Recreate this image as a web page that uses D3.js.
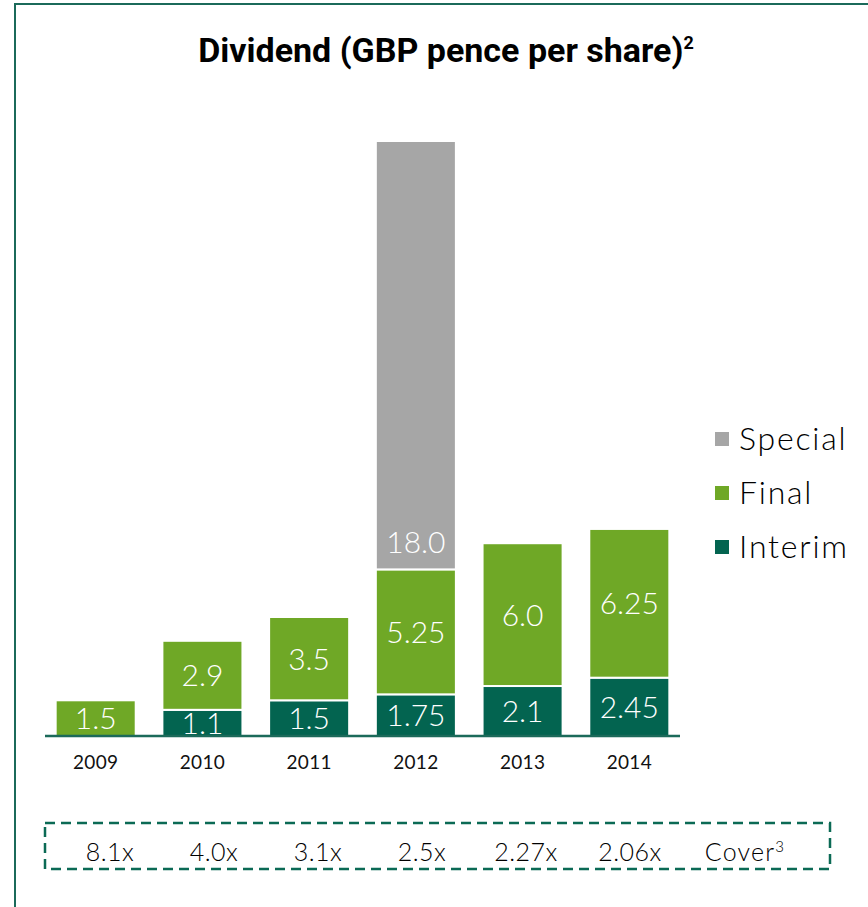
<!DOCTYPE html>
<html>
<head>
<meta charset="utf-8">
<script src="https://cdn.jsdelivr.net/npm/d3@7"></script>
<style>
  html, body { margin: 0; padding: 0; background: #ffffff; }
  svg { display: block; }
</style>
</head>
<body>
<svg id="chart" width="868" height="907"></svg>
<script>
// Dividend per share, GBP pence
const years = ["2009", "2010", "2011", "2012", "2013", "2014"];
const interim = [0, 1.1, 1.5, 1.75, 2.1, 2.45];
const finalDiv = [1.5, 2.9, 3.5, 5.25, 6.0, 6.25];
const special = [0, 0, 0, 18.0, 0, 0];
const interimLabels = ["", "1.1", "1.5", "1.75", "2.1", "2.45"];
const finalLabels = ["1.5", "2.9", "3.5", "5.25", "6.0", "6.25"];
const specialLabels = ["", "", "", "18.0", "", ""];
const cover = ["8.1x", "4.0x", "3.1x", "2.5x", "2.27x", "2.06x"];
const seriesNames = ["Special", "Final", "Interim"];

const colors = { Interim: "#036450", Final: "#6fa826", Special: "#a6a6a6" };
const frameColor = "#1b6a5a";
const labelFont = "Lato, 'DejaVu Sans', sans-serif";

const svg = d3.select("#chart");

// outer frame (left and top edges)
svg.append("path")
  .attr("d", "M15,907 V4 H868")
  .attr("fill", "none")
  .attr("stroke", frameColor)
  .attr("stroke-width", 2);

// title
const title = svg.append("text")
  .attr("x", 446).attr("y", 62)
  .attr("text-anchor", "middle")
  .attr("font-family", "Roboto, 'Noto Sans', sans-serif")
  .attr("font-weight", "bold")
  .attr("font-size", 34)
  .attr("fill", "#000");
title.append("tspan").text("Dividend (GBP pence per share)");
title.append("tspan").attr("font-size", 18).attr("dy", -13).text("2");

// scales
const baseY = 736;
const x = d3.scaleBand().domain(years).range([45, 680]).paddingInner(0.25).paddingOuter(0.1);
const y = d3.scaleLinear().domain([0, 25]).range([baseY, baseY - 25 * 23.8]);

const rows = years.map((yr, i) => ({ year: yr, Interim: interim[i], Final: finalDiv[i], Special: special[i], i }));
const stack = d3.stack().keys(["Interim", "Final", "Special"]);
const stacked = stack(rows);
const labelsByKey = { Interim: interimLabels, Final: finalLabels, Special: specialLabels };

// label baseline: centred in the segment, except the tall special segment,
// whose label sits just above its bottom edge
function labelY(key, d) {
  if (key === "Special") return y(d[0]) - 16;
  return (y(d[0]) + y(d[1])) / 2 + 11;
}

const g = svg.append("g");
stacked.forEach(layer => {
  const key = layer.key;
  const lg = g.append("g");
  lg.selectAll("rect")
    .data(layer.filter(d => d[1] - d[0] > 0))
    .join("rect")
    .attr("x", d => x(d.data.year))
    .attr("width", x.bandwidth())
    .attr("y", d => y(d[1]))
    .attr("height", d => y(d[0]) - y(d[1]))
    .attr("fill", colors[key])
    .attr("stroke", "#ffffff")
    .attr("stroke-width", 2);
  lg.selectAll("text")
    .data(layer.filter(d => d[1] - d[0] > 0))
    .join("text")
    .attr("x", d => x(d.data.year) + x.bandwidth() / 2)
    .attr("y", d => labelY(key, d))
    .attr("text-anchor", "middle")
    .attr("font-family", labelFont)
    .attr("font-weight", 300)
    .attr("font-size", 30)
    .attr("fill", "#ffffff")
    .text(d => labelsByKey[key][d.data.i]);
});

// baseline axis
const axis = d3.axisBottom(x).tickSize(0).tickPadding(20);
const ax = svg.append("g").attr("transform", `translate(0,${baseY})`).call(axis);
ax.select(".domain").remove();
ax.append("line")
  .attr("x1", 45).attr("x2", 680)
  .attr("stroke", frameColor).attr("stroke-width", 2.5);
ax.selectAll(".tick text")
  .attr("font-family", labelFont)
  .attr("font-size", 19)
  .attr("letter-spacing", 0.3)
  .attr("fill", "#111");

// legend
const legend = svg.append("g");
seriesNames.forEach((name, i) => {
  const ly = 439 + i * 54;
  legend.append("rect")
    .attr("x", 715).attr("y", ly - 7).attr("width", 14).attr("height", 14)
    .attr("fill", colors[name]);
  legend.append("text")
    .attr("x", 739).attr("y", ly + 11)
    .attr("font-family", labelFont)
    .attr("font-weight", 300)
    .attr("font-size", 32)
    .attr("letter-spacing", 1.8)
    .attr("fill", "#000")
    .text(name);
});

// dividend cover row
svg.append("rect")
  .attr("x", 45).attr("y", 823).attr("width", 785).attr("height", 46)
  .attr("fill", "none")
  .attr("stroke", "#0b6a55")
  .attr("stroke-width", 2.5)
  .attr("stroke-dasharray", "10,6");

const cx = d3.scalePoint().domain(cover.concat(["Cover"])).range([110, 734]);
const coverG = svg.append("g");
coverG.selectAll("text")
  .data(cover)
  .join("text")
  .attr("x", d => cx(d))
  .attr("y", 861)
  .attr("text-anchor", "middle")
  .attr("font-family", labelFont)
  .attr("font-weight", 300)
  .attr("font-size", 25)
  .attr("letter-spacing", 0.5)
  .attr("fill", "#000")
  .text(d => d);
const coverLbl = coverG.append("text")
  .attr("x", cx("Cover") + 11).attr("y", 861)
  .attr("text-anchor", "middle")
  .attr("font-family", labelFont)
  .attr("font-weight", 300)
  .attr("font-size", 25)
  .attr("letter-spacing", 1.2)
  .attr("fill", "#000");
coverLbl.append("tspan").text("Cover");
coverLbl.append("tspan").attr("font-size", 15).attr("dy", -9).text("3");
</script>
</body>
</html>
